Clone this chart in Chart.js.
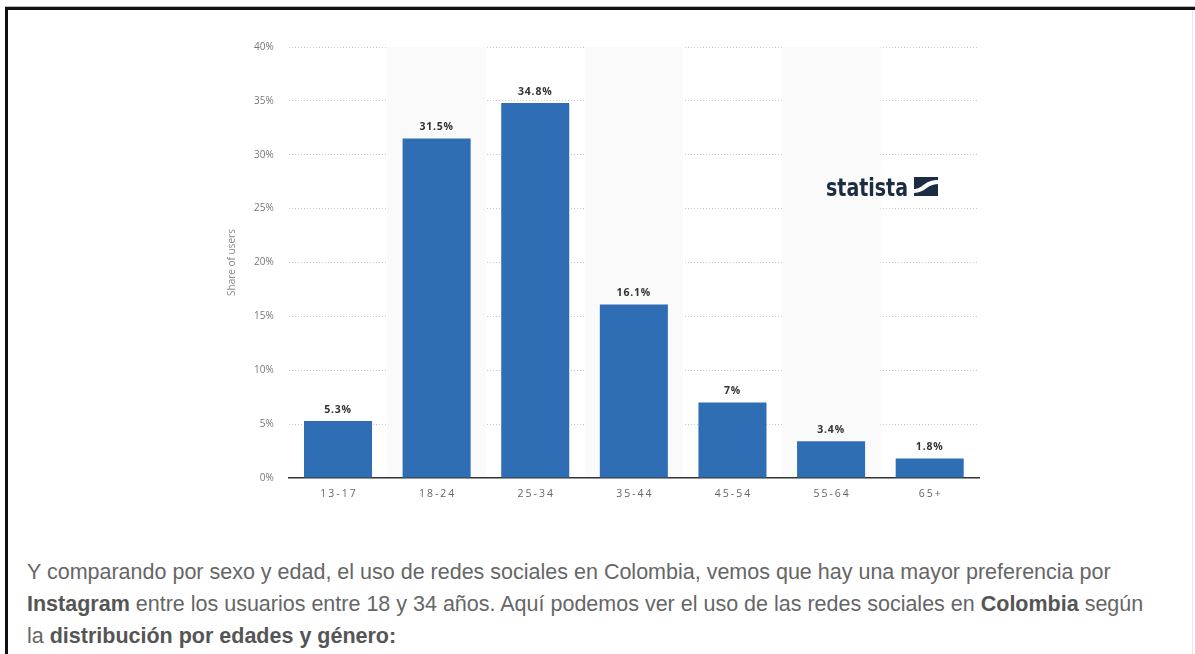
<!DOCTYPE html>
<html>
<head>
<meta charset="utf-8">
<script src="https://cdn.jsdelivr.net/npm/chart.js@4/dist/chart.umd.min.js"></script>
<style>
  html, body { margin: 0; padding: 0; background: #fff; }
  body { width: 1195px; height: 654px; overflow: hidden; position: relative; }
  .frame {
    position: absolute; left: 5px; top: 7px; width: 1300px; height: 700px;
    border-top: 3px solid #111; border-left: 3px solid #111;
    box-shadow: 0 -1px 0 #bbb;
  }
  .edge { position: absolute; left: 1192px; top: 10px; width: 1px; height: 660px; background: #e8e8e8; }
  .chart-box { position: absolute; left: 210px; top: 25px; width: 790px; height: 490px; }
  p.texto {
    position: absolute; left: 27px; top: 556px; width: 1160px; margin: 0;
    font-family: "Liberation Sans", Arial, sans-serif; font-size: 21.5px; line-height: 32px;
    color: #666; white-space: nowrap;
  }
  p.texto b { color: #555; }
</style>
</head>
<body>
<div class="frame"></div>
<div class="edge"></div>
<div class="chart-box"><canvas id="edades"></canvas></div>
<p class="texto">Y comparando por sexo y edad, el uso de redes sociales en Colombia, vemos que hay una mayor preferencia por<br><b>Instagram</b> entre los usuarios entre 18 y 34 años. Aquí podemos ver el uso de las redes sociales en <b>Colombia</b> según<br>la <b>distribución por edades y género:</b></p>

<script>
const grupos = ['13-17', '18-24', '25-34', '35-44', '45-54', '55-64', '65+'];
const usuarios = [5.3, 31.5, 34.8, 16.1, 7, 3.4, 1.8];
const ticksY = [0, 5, 10, 15, 20, 25, 30, 35, 40];

// franjas grises alternas detrás de las barras
const franjas = {
  id: 'franjas',
  beforeDatasetsDraw(chart) {
    const { ctx, chartArea, scales } = chart;
    const x = scales.x;
    const ancho = (x.right - x.left) / grupos.length;
    ctx.save();
    ctx.fillStyle = '#fafafa';
    grupos.forEach((g, i) => {
      if (i % 2 === 1) {
        const cx = x.getPixelForValue(i);
        ctx.fillRect(cx - ancho / 2, chartArea.top, ancho, chartArea.bottom - chartArea.top - 1);
      }
    });
    ctx.restore();
  }
};

// etiquetas de valor y rótulos del eje x, con espaciado entre letras
const etiquetas = {
  id: 'etiquetas',
  afterDatasetsDraw(chart) {
    const { ctx, scales, chartArea } = chart;
    const meta = chart.getDatasetMeta(0);
    ctx.save();
    ctx.letterSpacing = '0.8px';
    ctx.font = 'bold 10.5px "Open Sans", sans-serif';
    ctx.fillStyle = '#333';
    ctx.textAlign = 'center';
    ctx.textBaseline = 'bottom';
    meta.data.forEach((bar, i) => {
      ctx.fillText(usuarios[i] + '%', bar.x, bar.y - 6);
    });
    ctx.letterSpacing = '2px';
    ctx.font = '10.5px "Open Sans", sans-serif';
    ctx.fillStyle = '#666';
    ctx.textBaseline = 'middle';
    grupos.forEach((g, i) => {
      ctx.fillText(g, scales.x.getPixelForValue(i) + 1, chartArea.bottom + 16);
    });
    ctx.restore();
  }
};

// logo de statista
const logo = {
  id: 'logo',
  afterDraw(chart) {
    const { ctx, chartArea } = chart;
    const x0 = chartArea.right - 153, y0 = chartArea.top + 139;
    ctx.save();
    ctx.fillStyle = '#1b2d42';
    ctx.font = 'bold 25px "Liberation Sans Narrow", "DejaVu Sans Condensed", sans-serif';
    ctx.textBaseline = 'alphabetic';
    const w = ctx.measureText('statista').width;
    ctx.save();
    ctx.translate(x0, y0 + 10);
    ctx.scale(82 / w, 1);
    ctx.fillText('statista', 0, 0);
    ctx.restore();
    const sx = x0 + 88, sy = y0 - 9, s = 24;
    ctx.fillRect(sx, sy, s, 19);
    ctx.fillStyle = '#fff';
    ctx.beginPath();
    ctx.moveTo(sx, sy + 12);
    ctx.bezierCurveTo(sx + 9, sy + 12, sx + 10, sy + 3, sx + s, sy + 3);
    ctx.lineTo(sx + s, sy + 7);
    ctx.bezierCurveTo(sx + 13, sy + 7, sx + 11, sy + 16, sx, sy + 16);
    ctx.closePath();
    ctx.fill();
    ctx.restore();
  }
};

new Chart(document.getElementById('edades'), {
  type: 'bar',
  data: {
    labels: grupos,
    datasets: [{
      label: 'Share of users',
      data: usuarios,
      backgroundColor: '#2f6eb5',
      borderWidth: 0,
      categoryPercentage: 1,
      barPercentage: 0.69
    }]
  },
  options: {
    responsive: true,
    maintainAspectRatio: false,
    animation: false,
    layout: { padding: { top: 22, right: 21, left: 0, bottom: 0 } },
    plugins: {
      legend: { display: false },
      tooltip: { enabled: false }
    },
    scales: {
      x: {
        grid: { display: false, drawTicks: false },
        border: { display: true, color: '#333', width: 1.5 },
        ticks: { display: false },
        afterFit(scale) { scale.height = 37; }
      },
      y: {
        min: 0,
        max: 40,
        afterBuildTicks(scale) { scale.ticks = ticksY.map(v => ({ value: v })); },
        grid: {
          drawTicks: false,
          color: ctx => ctx.tick && ctx.tick.value === 0 ? 'rgba(0,0,0,0)' : '#c8c8c8',
          lineWidth: 1
        },
        border: { display: false, dash: [1, 2] },
        ticks: {
          color: '#777',
          padding: 15,
          font: { family: '"Open Sans", sans-serif', size: 10 },
          callback: v => v + '%'
        },
        title: {
          display: true,
          text: 'Share of users',
          color: '#888',
          padding: { top: 16, bottom: 0 },
          font: { family: '"Open Sans", sans-serif', size: 10 }
        },
        afterFit(scale) { scale.width = 78.7; }
      }
    }
  },
  plugins: [franjas, etiquetas, logo]
});
</script>
</body>
</html>
